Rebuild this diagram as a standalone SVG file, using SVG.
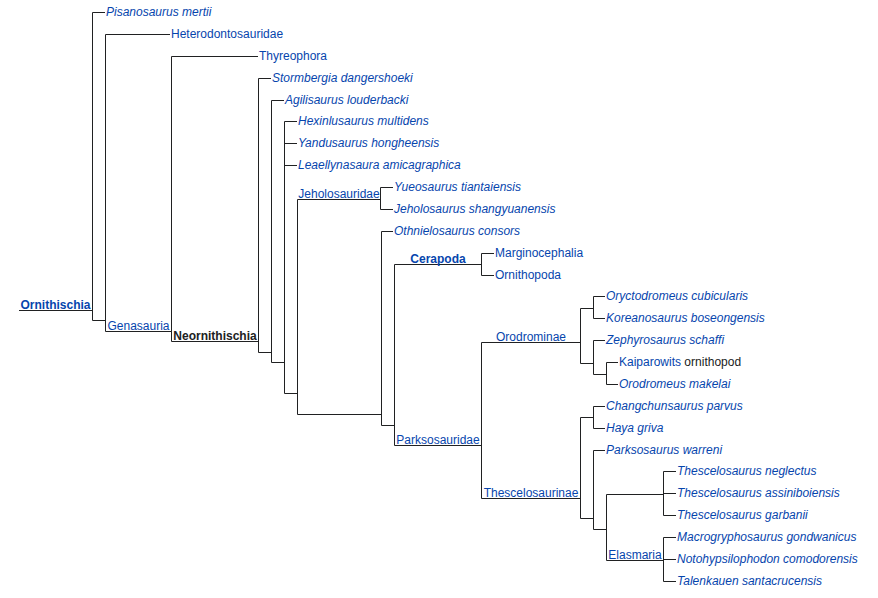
<svg xmlns="http://www.w3.org/2000/svg" width="878" height="598" viewBox="0 0 878 598">
<style>
text{font-family:"Liberation Sans",Arial,sans-serif;font-size:12px;fill:#0645ad}
.i{font-style:italic}
.b{font-weight:bold}
.k{fill:#202122}
.c{text-anchor:middle}
#connectors path{fill:none;stroke:#202122;stroke-width:1}
</style>
<rect width="878" height="598" fill="#fff"/>
<g id="connectors">
<path d="M19 310.5H92.5M92.5 12.5V320.5M92.5 12.5H105M92.5 320.5H105.5"/>
<path d="M105.5 34.5V331.5M105.5 34.5H170M105.5 331.5H171.5"/>
<path d="M171.5 56.5V341.5M171.5 56.5H258M171.5 341.5H258.5"/>
<path d="M258.5 78.5V352.5M258.5 78.5H271M258.5 352.5H271.5"/>
<path d="M271.5 100.5V362.5M271.5 100.5H284M271.5 362.5H284.5"/>
<path d="M284.5 121.5V393.5M284.5 121.5H297M284.5 143.5H297M284.5 165.5H297M284.5 393.5H297.5"/>
<path d="M297.5 199.5V414.5M297.5 199.5H380.5M297.5 414.5H381.5"/>
<path d="M380.5 187.5V209.5M380.5 187.5H393M380.5 209.5H393"/>
<path d="M381.5 231.5V425.5M381.5 231.5H393M381.5 425.5H394.5"/>
<path d="M394.5 264.5V445.5M394.5 264.5H481.5M394.5 445.5H481.5"/>
<path d="M481.5 253.5V275.5M481.5 253.5H494M481.5 275.5H494"/>
<path d="M481.5 342.5V498.5M481.5 342.5H580.5M481.5 498.5H580.5"/>
<path d="M580.5 308.5V363.5M580.5 308.5H593.5M580.5 363.5H593.5"/>
<path d="M593.5 296.5V318.5M593.5 296.5H605M593.5 318.5H605"/>
<path d="M593.5 340.5V374.5M593.5 340.5H605M593.5 374.5H606.5"/>
<path d="M606.5 362.5V384.5M606.5 362.5H618M606.5 384.5H618"/>
<path d="M580.5 417.5V518.5M580.5 417.5H593.5M580.5 518.5H593.5"/>
<path d="M593.5 406.5V428.5M593.5 406.5H605M593.5 428.5H605"/>
<path d="M593.5 450.5V529.5M593.5 450.5H605M593.5 529.5H606.5"/>
<path d="M606.5 494.5V560.5M606.5 494.5H663.5M606.5 560.5H663.5"/>
<path d="M663.5 471.5V515.5M663.5 471.5H676M663.5 493.5H676M663.5 515.5H676"/>
<path d="M663.5 537.5V581.5M663.5 537.5H676M663.5 559.5H676M663.5 581.5H676"/>
</g>
<g id="clade-ornithischia"><text class="b c" x="55.5" y="308.5">Ornithischia</text></g>
<g id="clade-genasauria"><text class="c" x="138.5" y="329.5">Genasauria</text></g>
<g id="clade-neornithischia"><text class="b c k" x="215" y="339.5">Neornithischia</text></g>
<g id="clade-jeholosauridae"><text class="c" x="339" y="197.5">Jeholosauridae</text></g>
<g id="clade-cerapoda"><text class="b c" x="438" y="262.5">Cerapoda</text></g>
<g id="clade-parksosauridae"><text class="c" x="438" y="443.5">Parksosauridae</text></g>
<g id="clade-orodrominae"><text class="c" x="531" y="340.5">Orodrominae</text></g>
<g id="clade-thescelosaurinae"><text class="c" x="531" y="496.5">Thescelosaurinae</text></g>
<g id="clade-elasmaria"><text class="c" x="635" y="558.5">Elasmaria</text></g>
<g id="leaf-pisanosaurus"><text class="i" x="106" y="16">Pisanosaurus mertii</text></g>
<g id="leaf-heterodontosauridae"><text x="171" y="38">Heterodontosauridae</text></g>
<g id="leaf-thyreophora"><text x="259" y="60">Thyreophora</text></g>
<g id="leaf-stormbergia"><text class="i" x="272" y="82">Stormbergia dangershoeki</text></g>
<g id="leaf-agilisaurus"><text class="i" x="285" y="104">Agilisaurus louderbacki</text></g>
<g id="leaf-hexinlusaurus"><text class="i" x="298" y="125">Hexinlusaurus multidens</text></g>
<g id="leaf-yandusaurus"><text class="i" x="298" y="147">Yandusaurus hongheensis</text></g>
<g id="leaf-leaellynasaura"><text class="i" x="298" y="169">Leaellynasaura amicagraphica</text></g>
<g id="leaf-yueosaurus"><text class="i" x="394" y="191">Yueosaurus tiantaiensis</text></g>
<g id="leaf-jeholosaurus"><text class="i" x="394" y="213">Jeholosaurus shangyuanensis</text></g>
<g id="leaf-othnielosaurus"><text class="i" x="394" y="235">Othnielosaurus consors</text></g>
<g id="leaf-marginocephalia"><text x="495" y="257">Marginocephalia</text></g>
<g id="leaf-ornithopoda"><text x="495" y="279">Ornithopoda</text></g>
<g id="leaf-oryctodromeus"><text class="i" x="606" y="300">Oryctodromeus cubicularis</text></g>
<g id="leaf-koreanosaurus"><text class="i" x="606" y="322">Koreanosaurus boseongensis</text></g>
<g id="leaf-zephyrosaurus"><text class="i" x="606" y="344">Zephyrosaurus schaffi</text></g>
<g id="leaf-kaiparowits"><text x="619" y="366">Kaiparowits<tspan class="k"> ornithopod</tspan></text></g>
<g id="leaf-orodromeus"><text class="i" x="619" y="388">Orodromeus makelai</text></g>
<g id="leaf-changchunsaurus"><text class="i" x="606" y="410">Changchunsaurus parvus</text></g>
<g id="leaf-haya"><text class="i" x="606" y="432">Haya griva</text></g>
<g id="leaf-parksosaurus"><text class="i" x="606" y="454">Parksosaurus warreni</text></g>
<g id="leaf-t-neglectus"><text class="i" x="677" y="475">Thescelosaurus neglectus</text></g>
<g id="leaf-t-assiniboiensis"><text class="i" x="677" y="497">Thescelosaurus assiniboiensis</text></g>
<g id="leaf-t-garbanii"><text class="i" x="677" y="519">Thescelosaurus garbanii</text></g>
<g id="leaf-macrogryphosaurus"><text class="i" x="677" y="541">Macrogryphosaurus gondwanicus</text></g>
<g id="leaf-notohypsilophodon"><text class="i" x="677" y="563">Notohypsilophodon comodorensis</text></g>
<g id="leaf-talenkauen"><text class="i" x="677" y="585">Talenkauen santacrucensis</text></g>
</svg>
